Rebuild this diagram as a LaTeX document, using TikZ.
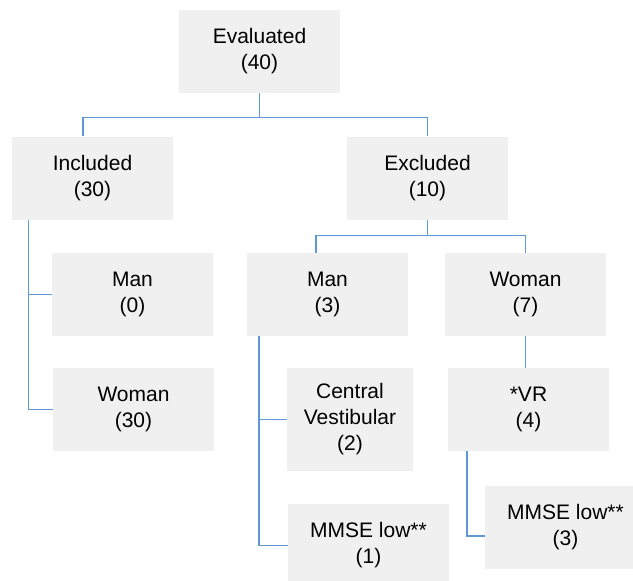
\documentclass[tikz,border=0pt]{standalone}
\usepackage{fontspec}
\setmainfont{Liberation Sans}
\usetikzlibrary{positioning}
\usetikzlibrary{calc}
\definecolor{boxgray}{HTML}{F0F0F0}
\definecolor{linkblue}{HTML}{5F98D6}
\tikzset{
  box/.style={fill=boxgray, minimum width=161pt, minimum height=83pt, inner sep=0pt,
    align=center, font=\fontsize{21}{26}\selectfont},
  link/.style={draw=linkblue, line width=1.4pt}
}

\begin{document}
\begin{tikzpicture}[x=1pt,y=-1pt]
\useasboundingbox (0,0) rectangle (633,581);
\clip (0,0) rectangle (633,581);

\node[box] (eval) at (259.5,51.5) {Evaluated\\(40)}; %top
\node[box] (incl) at (92.5,178) {Included\\(30)}; %level 1
\node[box] (excl) at (427.5,178) {Excluded\\(10)};

\node[box] (man0) at (132.5,294.5) {Man\\(0)}; %included side
\node[box] (wom30) at (133.5,409.5) {Woman\\(30)};

\node[box] (man3) at (327.5,294.5) {Man\\(3)}; %excluded side
\node[box] (wom7) at (525.5,294.5) {Woman\\(7)};
\node[box, minimum width=126pt, minimum height=103pt] (cv) at (350,419.5) {Central\\Vestibular\\(2)};
\node[box] (mmse1) at (368.5,545.5) {MMSE low**\\(1)};
\node[box] (vr) at (528.5,409.5) {*VR\\(4)};
\node[box] (mmse3) at (565.5,527) {MMSE low**\\(3)};

\draw[link] (eval.south) -- ++(0,24.5) -| ([xshift=-9.5pt]incl.north); %links
\draw[link] (eval.south) -- ++(0,24.5) -| (excl.north);
\draw[link] ([xshift=-64pt]incl.south) |- (man0.west);
\draw[link] ([xshift=-64pt]incl.south) |- (wom30.west);
\draw[link] (excl.south) -- ++(0,16) -| ([xshift=-11.5pt]man3.north);
\draw[link] (excl.south) -- ++(0,16) -| (wom7.north);
\draw[link] ([xshift=-68.5pt]man3.south) |- (cv.west);
\draw[link] ([xshift=-68.5pt]man3.south) |- (mmse1.west);
\draw[link] (wom7.south) -- (wom7.south |- vr.north);
\draw[link] ([xshift=-61.5pt]vr.south) |- ([yshift=-9pt]mmse3.west);
\end{tikzpicture}
\end{document}
